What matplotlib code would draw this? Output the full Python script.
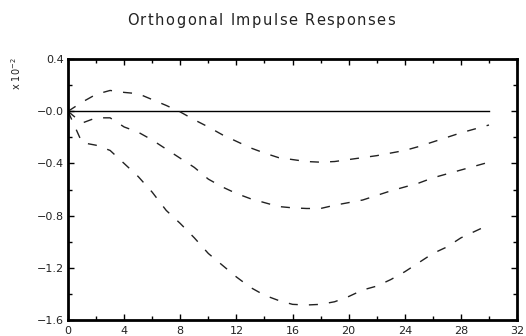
import matplotlib
matplotlib.use("Agg")
import matplotlib.pyplot as plt
from matplotlib.ticker import MultipleLocator, FuncFormatter
from matplotlib.textpath import TextPath
from matplotlib.font_manager import FontProperties
from matplotlib.transforms import offset_copy

# Impulse response of the orthogonalised shock (units of 1e-2) with error bands
steps = list(range(31))
upper = [0.0, 0.07, 0.13, 0.16, 0.145, 0.135, 0.09, 0.045, -0.005, -0.065, -0.12,
         -0.18, -0.23, -0.28, -0.32, -0.355, -0.37, -0.385, -0.39, -0.385, -0.37,
         -0.355, -0.34, -0.32, -0.30, -0.27, -0.235, -0.20, -0.165, -0.135, -0.105]
response = [0.0, -0.09, -0.05, -0.05, -0.12, -0.16, -0.22, -0.29, -0.36, -0.43, -0.52,
            -0.58, -0.63, -0.67, -0.70, -0.73, -0.74, -0.745, -0.745, -0.72, -0.70,
            -0.68, -0.645, -0.61, -0.58, -0.55, -0.51, -0.48, -0.45, -0.42, -0.39]
lower = [0.0, -0.24, -0.26, -0.30, -0.40, -0.50, -0.62, -0.76, -0.86, -0.97, -1.09,
         -1.18, -1.27, -1.35, -1.41, -1.45, -1.48, -1.485, -1.48, -1.46, -1.42,
         -1.37, -1.34, -1.29, -1.23, -1.16, -1.09, -1.04, -0.97, -0.92, -0.87]

x_ticks = [0, 4, 8, 12, 16, 20, 24, 28, 32]
y_ticks = [0.4, 0.0, -0.4, -0.8, -1.2, -1.6]
title = "Orthogonal Impulse Responses"

fig = plt.figure(figsize=(5.26, 3.36), dpi=100)
ax = fig.add_axes([0.1293, 0.0476, 0.8537, 0.7764])

ax.plot([steps[0], steps[-1]], [0, 0], color="black", lw=1.0)
for series in (upper, response, lower):
    ax.plot(steps, series, color="#222222", lw=1.0, dashes=(6.5, 8))

ax.set_xlim(0, 32)
ax.set_ylim(-1.6, 0.4)
ax.set_xticks(x_ticks)
ax.set_yticks(y_ticks)
ax.xaxis.set_minor_locator(MultipleLocator(2))
ax.yaxis.set_minor_locator(MultipleLocator(0.2))
ax.yaxis.set_major_formatter(FuncFormatter(
    lambda v, p: ("\u2212" if v <= 0 else "") + f"{abs(v):.1f}"))

for s in ax.spines.values():
    s.set_linewidth(2.0)
ax.tick_params(which="both", direction="in", top=True, right=True,
               labelsize=8, width=1.0, colors="black", labelcolor="#222222", pad=3)
ax.tick_params(which="major", length=4)
ax.tick_params(which="minor", length=3)
ax.tick_params(axis="x", pad=4)


def spaced_text(fig, x_left, y, text, spacing_pt, size, **kw):
    """Draw text letter by letter with extra tracking between characters."""
    prop = FontProperties(family="DejaVu Sans", size=size)

    def advance(s):
        # advance width of a string in points, using a sentinel to keep spaces
        return (TextPath((0, 0), s + "|", prop=prop).get_extents().x1
                - TextPath((0, 0), "|", prop=prop).get_extents().x1)

    for i, ch in enumerate(text):
        if ch == " ":
            continue
        dx = advance(text[:i]) + i * spacing_pt if i else 0.0
        fig.text(x_left, y, ch, ha="left", va="center", fontproperties=prop,
                 transform=offset_copy(fig.transFigure, fig=fig, x=dx, y=0,
                                       units="points"), **kw)


spaced_text(fig, 127 / 526, 0.94, title, 1.1, 10.5, color="#222222")
fig.text(0.03, 0.78, r"x 10$^{-2}$", rotation=90, ha="center", va="center",
         fontsize=7, color="#222222")

fig.savefig("out.png", dpi=100)
